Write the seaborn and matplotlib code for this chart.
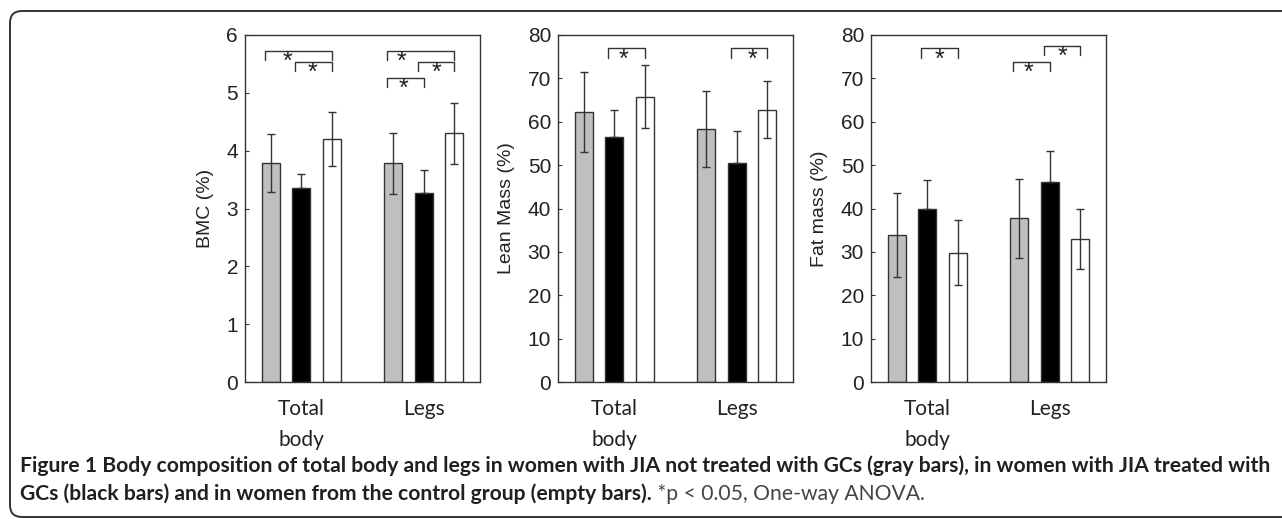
import numpy as np
import pandas as pd
import matplotlib
matplotlib.use('Agg')
import matplotlib.pyplot as plt
from matplotlib.patches import FancyBboxPatch
import seaborn as sns

# ---------------------------------------------------------------
# data (mean, SD) per region x group
# ---------------------------------------------------------------
regions = ['Total\nbody', 'Legs']
groups = ['JIA no GCs', 'JIA with GCs', 'Control']
colors = ['#bfbfbf', '#000000', '#ffffff']

bmc_mean = [[3.78, 3.35, 4.20], [3.78, 3.26, 4.30]]
bmc_sd = [[0.50, 0.25, 0.47], [0.53, 0.40, 0.53]]

lean_mean = [[62.2, 56.5, 65.8], [58.3, 50.6, 62.8]]
lean_sd = [[9.2, 6.3, 7.2], [8.8, 7.2, 6.6]]

fat_mean = [[33.9, 39.8, 29.8], [37.7, 46.0, 32.9]]
fat_sd = [[9.7, 6.8, 7.5], [9.2, 7.3, 6.9]]

# significance brackets: (region, group i, group j, height, star position along bracket)
bmc_sig = [(0, 0, 2, 5.73, 0.34), (0, 1, 2, 5.54, 0.48),
           (1, 0, 2, 5.73, 0.21), (1, 1, 2, 5.54, 0.52), (1, 0, 1, 5.26, 0.46)]
lean_sig = [(0, 1, 2, 76.9, 0.42), (1, 1, 2, 76.9, 0.59)]
fat_sig = [(0, 1, 2, 76.9, 0.49), (1, 0, 1, 73.8, 0.43), (1, 1, 2, 77.5, 0.52)]

panels = [
    ('BMC (%)', bmc_mean, bmc_sd, bmc_sig, 6, 1),
    ('Lean Mass (%)', lean_mean, lean_sd, lean_sig, 80, 10),
    ('Fat mass (%)', fat_mean, fat_sd, fat_sig, 80, 10),
]

sns.set_theme(style='white')
plt.rcParams['font.family'] = ['Liberation Sans', 'DejaVu Sans']
edge = '#333333'

fig = plt.figure(figsize=(12.82, 5.19), dpi=100)

# rounded frame around the figure
frame = FancyBboxPatch((0.10, 0.02), 13.2, 5.06,
                       boxstyle='round,pad=0,rounding_size=0.12',
                       transform=fig.dpi_scale_trans, facecolor='none',
                       edgecolor=edge, linewidth=1.4)
fig.patches.append(frame)

lefts = [245, 558, 871]
for left, (ylabel, means, sds, sig, ymax, ystep) in zip(lefts, panels):
    ax = fig.add_axes([left / 1282, 1 - 382 / 519, 235 / 1282, 347 / 519])
    df = pd.DataFrame({
        'region': np.repeat(regions, len(groups)),
        'group': groups * len(regions),
        'value': np.ravel(means),
    })
    sns.barplot(data=df, x='region', y='value', hue='group', order=regions,
                hue_order=groups, palette=colors, edgecolor=edge, linewidth=1.0,
                width=0.75, gap=0.4, errorbar=None, legend=False, ax=ax,
                saturation=1)

    # error bars on top of each bar (black bars: upper half only)
    centers = {}
    bars = list(ax.containers)
    for k, cont in enumerate(bars):
        xs = [p.get_x() + p.get_width() / 2 for p in cont]
        ys = [p.get_height() for p in cont]
        sd = [sds[r][k] for r in range(len(regions))]
        lower = [0] * len(sd) if colors[k] == '#000000' else sd
        ax.errorbar(xs, ys, yerr=[lower, sd], fmt='none', ecolor=edge,
                    elinewidth=1.0, capsize=3, capthick=1.0, zorder=5)
        for r, x in enumerate(xs):
            centers[(r, k)] = x

    # significance brackets
    tick = 0.027 * ymax
    for r, i, j, h, frac in sig:
        x0 = centers[(r, i)] - 0.05
        x1 = centers[(r, j)]
        ax.plot([x0, x0, x1, x1], [h - tick, h, h, h - tick], color=edge, lw=1.0)
        ax.text(x0 + frac * (x1 - x0), h + 0.002 * ymax, '*', ha='center', va='top',
                fontsize=18, color='#222222')

    ax.set_xlim(-0.46, 1.46)
    ax.set_ylim(0, ymax)
    ax.set_yticks(np.arange(0, ymax + ystep / 2, ystep))
    ax.set_xlabel('')
    ax.set_ylabel(ylabel, fontsize=14, color='#222222', labelpad=9)
    ax.tick_params(axis='y', direction='in', length=3, width=0.8, color=edge,
                   labelsize=15, labelcolor='#222222', pad=5, left=True)
    ax.tick_params(axis='x', length=0, pad=12)
    for lab in ax.get_xticklabels():
        lab.set_fontfamily('Lato')
        lab.set_fontsize(15)
        lab.set_color('#222222')
        lab.set_linespacing(1.7)
    for s in ax.spines.values():
        s.set_visible(True)
        s.set_color(edge)
        s.set_linewidth(1.0)

# caption
line1 = ('Figure 1 Body composition of total body and legs in women with JIA not '
         'treated with GCs (gray bars), in women with JIA treated with')
line2_bold = 'GCs (black bars) and in women from the control group (empty bars).'
line2_reg = ' *p < 0.05, One-way ANOVA.'

t1 = fig.text(20 / 1282, 1 - 466 / 519, line1, fontfamily='Lato', fontweight='bold',
              fontsize=13, va='center', ha='left', color='#231f20')
fig.canvas.draw()
rend = fig.canvas.get_renderer()
w = t1.get_window_extent(rend).width
size = 13 * 1250 / w
t1.set_fontsize(size)
t2 = fig.text(20 / 1282, 1 - 494 / 519, line2_bold, fontfamily='Lato', fontweight='bold',
              fontsize=size, va='center', ha='left', color='#231f20')
fig.canvas.draw()
bb = t2.get_window_extent(rend)
fig.text(bb.x1 / fig.bbox.width, 1 - 494 / 519, line2_reg, fontfamily='Lato',
         fontweight='normal', fontsize=size, va='center', ha='left', color='#444444')

fig.savefig('out.png', dpi=100)
